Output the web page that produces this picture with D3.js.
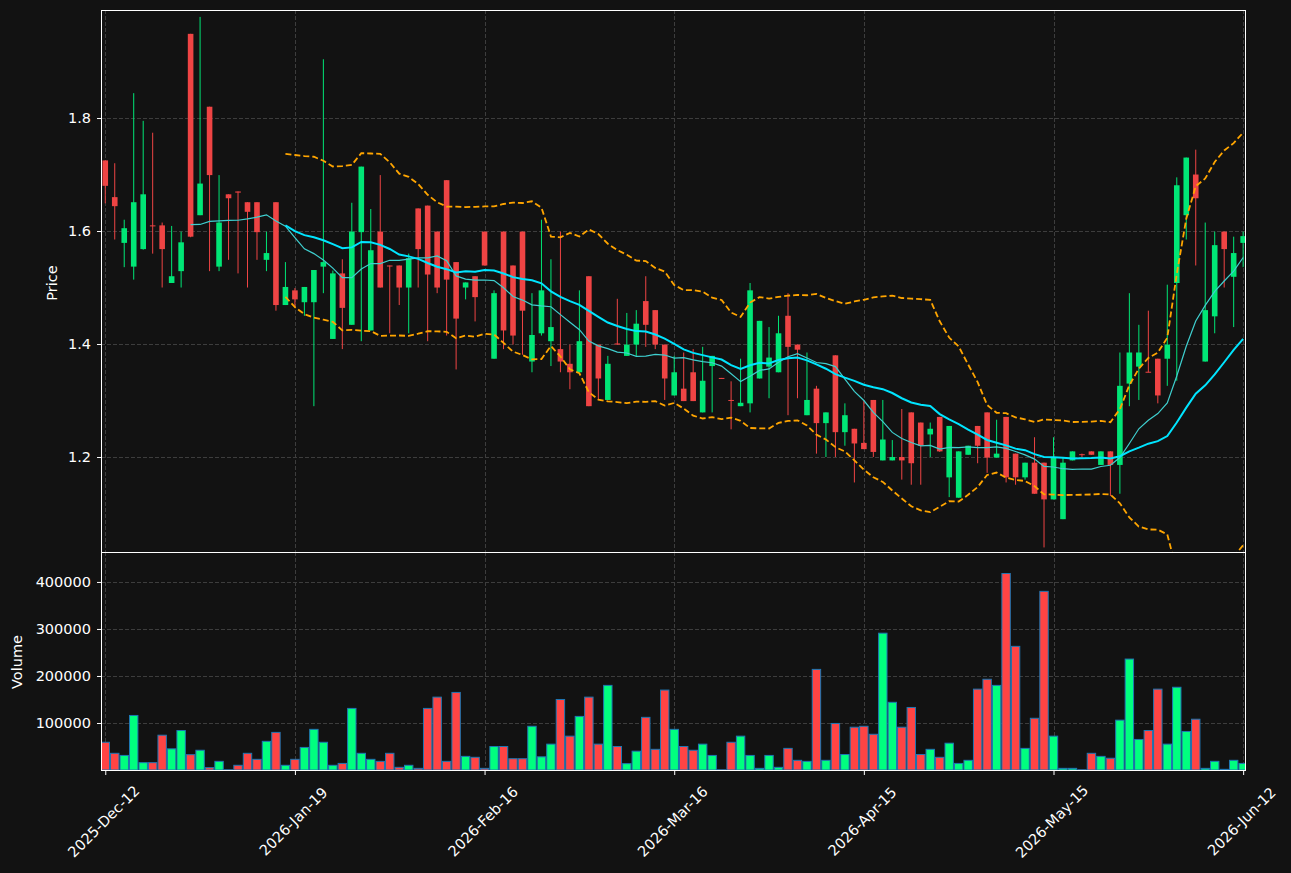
<!DOCTYPE html>
<html>
<head>
<meta charset="utf-8">
<script src="https://cdn.jsdelivr.net/npm/d3@7/dist/d3.min.js"></script>
<style>
  html, body { margin: 0; padding: 0; background: #121212; }
  svg { display: block; }
  text { font-family: "DejaVu Sans", sans-serif; }
</style>
</head>
<body>
<svg id="chart" width="1291" height="873"></svg>
<script>
// ---------------- data ----------------
const tickIndex = [0, 20, 40, 60, 80, 100, 120];
const tickLabels = ["2025-Dec-12", "2026-Jan-19", "2026-Feb-16", "2026-Mar-16", "2026-Apr-15", "2026-May-15", "2026-Jun-12"];
const priceTicks = [1.2, 1.4, 1.6, 1.8];
const volumeTicks = [100000, 200000, 300000, 400000];

const open = [
  1.725, 1.660, 1.579, 1.537, 1.568, 1.610, 1.610, 1.508, 1.529, 1.949,
  1.628, 1.820, 1.537, 1.665, 1.670, 1.651, 1.651, 1.549, 1.651, 1.469,
  1.495, 1.474, 1.474, 1.537, 1.409, 1.525, 1.434, 1.598, 1.424, 1.599,
  1.539, 1.539, 1.500, 1.640, 1.645, 1.599, 1.690, 1.545, 1.500, 1.520,
  1.599, 1.374, 1.599, 1.539, 1.599, 1.369, 1.419, 1.405, 1.391, 1.365,
  1.350, 1.520, 1.399, 1.301, 1.401, 1.379, 1.399, 1.476, 1.460, 1.399,
  1.309, 1.321, 1.350, 1.279, 1.361, 1.340, 1.301, 1.290, 1.295, 1.339,
  1.360, 1.350, 1.450, 1.399, 1.274, 1.321, 1.260, 1.380, 1.244, 1.250,
  1.225, 1.301, 1.194, 1.194, 1.200, 1.279, 1.261, 1.240, 1.271, 1.164,
  1.128, 1.204, 1.255, 1.279, 1.199, 1.271, 1.206, 1.164, 1.190, 1.190,
  1.125, 1.090, 1.194, 1.205, 1.210, 1.186, 1.210, 1.186, 1.330, 1.360,
  1.351, 1.374, 1.374, 1.508, 1.628, 1.700, 1.369, 1.449, 1.599, 1.519,
  1.579
];
const high = [
  1.725, 1.720, 1.620, 1.844, 1.795, 1.774, 1.615, 1.609, 1.599, 1.949,
  1.979, 1.820, 1.699, 1.665, 1.670, 1.651, 1.651, 1.599, 1.651, 1.545,
  1.499, 1.501, 1.531, 1.904, 1.530, 1.550, 1.650, 1.714, 1.639, 1.699,
  1.539, 1.539, 1.560, 1.640, 1.645, 1.599, 1.690, 1.545, 1.509, 1.520,
  1.599, 1.495, 1.599, 1.539, 1.599, 1.490, 1.620, 1.550, 1.599, 1.399,
  1.495, 1.520, 1.399, 1.379, 1.480, 1.455, 1.460, 1.520, 1.460, 1.399,
  1.379, 1.385, 1.391, 1.395, 1.379, 1.340, 1.334, 1.374, 1.508, 1.441,
  1.430, 1.450, 1.490, 1.399, 1.385, 1.326, 1.279, 1.380, 1.295, 1.250,
  1.299, 1.301, 1.301, 1.230, 1.285, 1.279, 1.261, 1.261, 1.271, 1.255,
  1.210, 1.220, 1.255, 1.279, 1.266, 1.271, 1.206, 1.190, 1.235, 1.190,
  1.235, 1.200, 1.210, 1.206, 1.210, 1.210, 1.210, 1.385, 1.490, 1.434,
  1.459, 1.374, 1.505, 1.695, 1.730, 1.744, 1.615, 1.599, 1.599, 1.590,
  1.599
];
const low = [
  1.649, 1.585, 1.536, 1.514, 1.567, 1.560, 1.500, 1.508, 1.500, 1.589,
  1.628, 1.529, 1.529, 1.549, 1.525, 1.500, 1.549, 1.529, 1.459, 1.469,
  1.465, 1.450, 1.290, 1.490, 1.409, 1.391, 1.434, 1.405, 1.424, 1.500,
  1.419, 1.469, 1.419, 1.500, 1.405, 1.490, 1.415, 1.355, 1.479, 1.440,
  1.539, 1.374, 1.391, 1.399, 1.381, 1.350, 1.415, 1.361, 1.350, 1.320,
  1.350, 1.290, 1.301, 1.301, 1.399, 1.379, 1.379, 1.395, 1.391, 1.301,
  1.309, 1.299, 1.299, 1.279, 1.279, 1.339, 1.249, 1.290, 1.279, 1.339,
  1.304, 1.350, 1.274, 1.304, 1.274, 1.206, 1.200, 1.200, 1.220, 1.155,
  1.214, 1.200, 1.194, 1.194, 1.160, 1.151, 1.151, 1.200, 1.209, 1.129,
  1.128, 1.204, 1.189, 1.172, 1.199, 1.155, 1.151, 1.160, 1.135, 1.040,
  1.125, 1.090, 1.194, 1.200, 1.204, 1.186, 1.131, 1.135, 1.290, 1.301,
  1.350, 1.295, 1.326, 1.335, 1.585, 1.539, 1.369, 1.419, 1.500, 1.430,
  1.536
];
const close = [
  1.680, 1.644, 1.605, 1.651, 1.665, 1.609, 1.568, 1.520, 1.580, 1.590,
  1.684, 1.699, 1.615, 1.658, 1.668, 1.634, 1.598, 1.561, 1.469, 1.501,
  1.479, 1.501, 1.531, 1.545, 1.525, 1.464, 1.599, 1.714, 1.566, 1.500,
  1.538, 1.500, 1.552, 1.568, 1.523, 1.500, 1.514, 1.445, 1.509, 1.483,
  1.539, 1.490, 1.424, 1.415, 1.459, 1.416, 1.495, 1.430, 1.369, 1.350,
  1.405, 1.290, 1.339, 1.365, 1.399, 1.399, 1.436, 1.434, 1.399, 1.339,
  1.350, 1.299, 1.299, 1.335, 1.379, 1.339, 1.300, 1.296, 1.495, 1.441,
  1.376, 1.419, 1.395, 1.390, 1.301, 1.260, 1.279, 1.244, 1.274, 1.224,
  1.214, 1.209, 1.231, 1.200, 1.194, 1.189, 1.220, 1.250, 1.210, 1.255,
  1.210, 1.220, 1.220, 1.199, 1.206, 1.164, 1.164, 1.190, 1.135, 1.125,
  1.200, 1.190, 1.210, 1.204, 1.204, 1.210, 1.186, 1.326, 1.385, 1.385,
  1.350, 1.309, 1.399, 1.681, 1.730, 1.658, 1.460, 1.575, 1.568, 1.561,
  1.591
];
const volume = [
  59000, 35500, 31000, 116000, 15600, 15600, 74000, 45000, 84000, 32600,
  42000, 5000, 18400, 500, 10000, 35500, 22700, 61000, 80000, 10000,
  22700, 48000, 86500, 59000, 10000, 14000, 131000, 35500, 22700, 18400,
  35500, 5700, 10000, 3500, 131000, 155000, 18400, 165000, 29000, 27000,
  3500, 50000, 50000, 24000, 24000, 93000, 28000, 55000, 150000, 72000,
  114000, 155000, 55000, 180000, 50000, 13500, 40000, 112000, 44000, 170000,
  86500, 50000, 42000, 55000, 31000, 500, 59000, 72000, 31000, 3500,
  31000, 5700, 46000, 20600, 18400, 214000, 20600, 99000, 33000, 91000,
  93000, 76000, 291000, 144000, 91000, 133000, 33000, 44000, 27000, 57000,
  14000, 20600, 172000, 193000, 180000, 418000, 263000, 46000, 110000, 380000,
  72000, 3500, 3500, 500, 35500, 29000, 25000, 106000, 236000, 65000,
  84000, 172000, 55000, 176000, 82000, 108000, 3500, 18400, 1400, 20600,
  14000
];

// ---------------- layout ----------------
const svg = d3.select("#chart");
const L = 101, R = 1246;
const pTop = 10, pBot = 552, vTop = 552, vBot = 770;

const x = d3.scaleLinear().domain([-0.45, 120.3]).range([L, R]);
const yP = d3.scaleLinear().domain([1.0319, 1.9912]).range([pBot, pTop]);
const yV = d3.scaleLinear().domain([0, 463700]).range([vBot, vTop]);

const n = close.length;
const idx = d3.range(n);

// indicators derived from the closes (10/20 moving averages, 20-period bands)
function rollingMean(arr, w) {
  return arr.map((_, i) => i < w - 1 ? null : d3.mean(arr.slice(i - w + 1, i + 1)));
}
function rollingStd(arr, w) {
  return arr.map((_, i) => i < w - 1 ? null : d3.deviation(arr.slice(i - w + 1, i + 1)));
}
const ma10 = rollingMean(close, 10);
const ma20 = rollingMean(close, 20);
const sd20 = rollingStd(close, 20);
const bbUp = ma20.map((m, i) => m == null ? null : m + 2 * sd20[i]);
const bbLo = ma20.map((m, i) => m == null ? null : m - 2 * sd20[i]);

const UP = "#00e676", DOWN = "#ef4444";
const VUP = "#00ff7f", VDOWN = "#ff4444";
const GRID = "#3d3d3d";

svg.append("rect").attr("width", 1291).attr("height", 873).attr("fill", "#121212");

const defs = svg.append("defs");
defs.append("clipPath").attr("id", "clipP").append("rect")
  .attr("x", L).attr("y", pTop).attr("width", R - L).attr("height", pBot - pTop);
defs.append("clipPath").attr("id", "clipV").append("rect")
  .attr("x", L).attr("y", vTop).attr("width", R - L).attr("height", vBot - vTop);

// ---------- grids ----------
const grid = svg.append("g").attr("stroke", GRID).attr("stroke-width", 1).attr("stroke-dasharray", "4,2").attr("fill", "none");
tickIndex.forEach(t => {
  const xx = Math.round(x(t)) + 0.5;
  grid.append("line").attr("x1", xx).attr("x2", xx).attr("y1", pTop).attr("y2", pBot);
  grid.append("line").attr("x1", xx).attr("x2", xx).attr("y1", vTop).attr("y2", vBot);
});
priceTicks.forEach(t => {
  const yy = Math.round(yP(t)) + 0.5;
  grid.append("line").attr("x1", L).attr("x2", R).attr("y1", yy).attr("y2", yy);
});
volumeTicks.forEach(t => {
  const yy = Math.round(yV(t)) + 0.5;
  grid.append("line").attr("x1", L).attr("x2", R).attr("y1", yy).attr("y2", yy);
});

// ---------- candles ----------
const gP = svg.append("g").attr("clip-path", "url(#clipP)");
const bodyW = 5.6;
const cg = gP.append("g");
idx.forEach(i => {
  const up = close[i] >= open[i];
  const col = up ? UP : DOWN;
  const cx = x(i);
  cg.append("line")
    .attr("x1", cx).attr("x2", cx)
    .attr("y1", yP(high[i])).attr("y2", yP(low[i]))
    .attr("stroke", col).attr("stroke-width", 1);
  const yt = yP(Math.max(open[i], close[i]));
  const yb = yP(Math.min(open[i], close[i]));
  cg.append("rect")
    .attr("x", cx - bodyW / 2).attr("width", bodyW)
    .attr("y", yt).attr("height", Math.max(1, yb - yt))
    .attr("fill", col);
});

// ---------- indicator lines ----------
const lineGen = arr => d3.line()
  .defined(i => arr[i] != null)
  .x(i => x(i)).y(i => yP(arr[i]))(idx);

gP.append("path").attr("d", lineGen(bbUp)).attr("fill", "none")
  .attr("stroke", "#ffa500").attr("stroke-width", 1.8).attr("stroke-dasharray", "6,3");
gP.append("path").attr("d", lineGen(bbLo)).attr("fill", "none")
  .attr("stroke", "#ffa500").attr("stroke-width", 1.8).attr("stroke-dasharray", "6,3");
gP.append("path").attr("d", lineGen(ma10)).attr("fill", "none")
  .attr("stroke", "#3fcfcf").attr("stroke-width", 1.2);
gP.append("path").attr("d", lineGen(ma20)).attr("fill", "none")
  .attr("stroke", "#00e5ff").attr("stroke-width", 2);

// ---------- volume ----------
const gV = svg.append("g").attr("clip-path", "url(#clipV)");
const barW = 8.4;
gV.selectAll("rect.vol").data(idx).join("rect")
  .attr("class", "vol")
  .attr("x", i => x(i) - barW / 2)
  .attr("width", barW)
  .attr("y", i => yV(volume[i]))
  .attr("height", i => yV(0) - yV(volume[i]))
  .attr("fill", i => close[i] >= open[i] ? VUP : VDOWN)
  .attr("stroke", "#1f77b4").attr("stroke-width", 1);

// ---------- frames ----------
svg.append("rect").attr("x", L + 0.5).attr("y", pTop + 0.5).attr("width", R - L - 1).attr("height", pBot - pTop)
  .attr("fill", "none").attr("stroke", "#ffffff").attr("stroke-width", 1);
svg.append("rect").attr("x", L + 0.5).attr("y", vTop + 0.5).attr("width", R - L - 1).attr("height", vBot - vTop)
  .attr("fill", "none").attr("stroke", "#ffffff").attr("stroke-width", 1);

// ---------- axes ----------
const fs = 14.5;
const axisP = svg.append("g").attr("transform", `translate(${L + 0.5},0)`)
  .call(d3.axisLeft(yP).tickValues(priceTicks).tickFormat(d3.format(".1f")).tickSize(4.5).tickPadding(6));
const axisV = svg.append("g").attr("transform", `translate(${L + 0.5},0)`)
  .call(d3.axisLeft(yV).tickValues(volumeTicks).tickFormat(d3.format("d")).tickSize(4.5).tickPadding(6));
const axisX = svg.append("g").attr("transform", `translate(0,${vBot + 0.5})`)
  .call(d3.axisBottom(x).tickValues(tickIndex).tickFormat((d, k) => tickLabels[k]).tickSize(4.5));
[axisP, axisV, axisX].forEach(a => {
  a.select(".domain").remove();
  a.selectAll(".tick line").attr("stroke", "#ffffff");
  a.selectAll(".tick text").attr("fill", "#ffffff").attr("font-size", fs).attr("font-family", "DejaVu Sans");
});
axisX.selectAll(".tick text")
  .attr("text-anchor", "middle")
  .attr("dominant-baseline", "central")
  .attr("dy", null)
  .attr("y", 0)
  .attr("transform", "translate(-2,51) rotate(-45)");

// ---------- axis titles ----------
svg.append("text").text("Price")
  .attr("transform", "translate(52,283) rotate(-90)")
  .attr("text-anchor", "middle").attr("dominant-baseline", "central")
  .attr("fill", "#ffffff").attr("font-size", fs);
svg.append("text").text("Volume")
  .attr("transform", "translate(17,662) rotate(-90)")
  .attr("text-anchor", "middle").attr("dominant-baseline", "central")
  .attr("fill", "#ffffff").attr("font-size", fs);
</script>
</body>
</html>
